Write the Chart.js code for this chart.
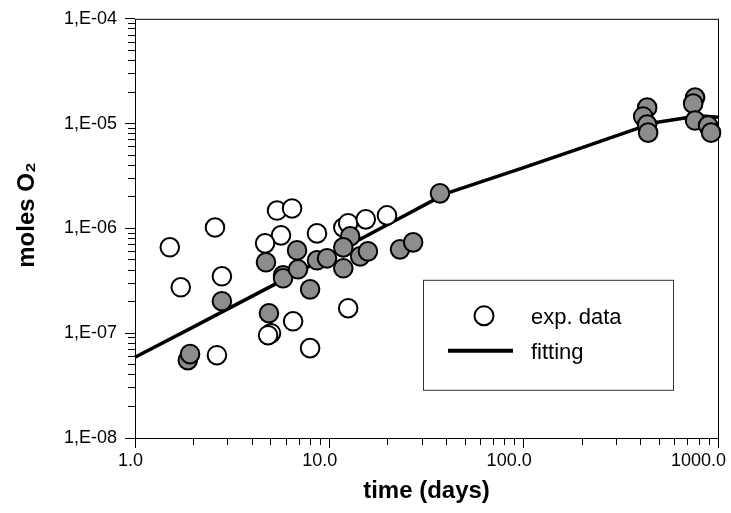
<!DOCTYPE html>
<html>
<head>
<meta charset="utf-8">
<script src="https://cdn.jsdelivr.net/npm/chart.js@4.4.1/dist/chart.umd.min.js"></script>
<style>
  html, body { margin: 0; padding: 0; background: #fff; }
  #wrap { width: 731px; height: 513px; }
</style>
</head>
<body>
<div id="wrap"><canvas id="oxygenChart"></canvas></div>
<script>
// exp. data, open symbols
const openDays = [1.51, 1.72, 2.58, 2.80, 2.64, 5.38, 6.43, 5.64, 4.67, 8.64, 6.51, 5.01, 4.84, 7.96, 12.5, 11.8, 12.5, 15.4, 19.8];
const openMoles = [6.6e-7, 2.74e-7, 1.02e-6, 3.49e-7, 6.17e-8, 1.48e-6, 1.55e-6, 8.58e-7, 7.2e-7, 8.96e-7, 1.30e-7, 1.0e-7, 9.57e-8, 7.2e-8, 1.73e-7, 1.02e-6, 1.12e-6, 1.22e-6, 1.33e-6];

// exp. data, grey symbols
const greyDays = [1.87, 1.92, 2.80, 4.72, 6.82, 5.78, 5.78, 6.90, 7.96, 8.64, 9.73, 4.89, 12.8, 11.8, 14.4, 15.8, 11.8, 23.1, 27.0, 37.1, 432, 412, 432, 437, 762, 745, 762, 889, 921];
const greyMoles = [5.53e-8, 6.31e-8, 2.02e-7, 4.75e-7, 6.17e-7, 3.57e-7, 3.34e-7, 4.07e-7, 2.62e-7, 4.96e-7, 5.18e-7, 1.55e-7, 8.39e-7, 6.59e-7, 5.41e-7, 6.04e-7, 4.16e-7, 6.31e-7, 7.36e-7, 2.16e-6, 1.42e-5, 1.17e-5, 9.78e-6, 8.2e-6, 1.77e-5, 1.55e-5, 1.07e-5, 9.57e-6, 8.2e-6];

// fitting curve
const fitDays = [1, 2, 5, 10, 20, 40, 100, 200, 470, 800, 1000];
const fitMoles = [5.9e-8, 1.15e-7, 2.8e-7, 5.5e-7, 1.09e-6, 2.16e-6, 3.8e-6, 5.9e-6, 1.02e-5, 1.19e-5, 1.15e-5];

const seriesLabels = ['exp. data', 'fitting'];

// axes
const xMajor = [1, 10, 100, 1000];
const xTickLabels = ['1.0', '10.0', '100.0', '1000.0'];
const yMajor = [1e-8, 1e-7, 1e-6, 1e-5, 1e-4];
const yTickLabels = ['1,E-08', '1,E-07', '1,E-06', '1,E-05', '1,E-04'];
const minorSteps = [2, 3, 4, 5, 6, 7, 8, 9];

function toPoints(xs, ys) {
    return xs.map((x, i) => ({ x: x, y: ys[i] }));
}

function logTicks(majors) {
    const out = [];
    majors.forEach((m, i) => {
        out.push({ value: m, major: true });
        if (i < majors.length - 1) {
            minorSteps.forEach(s => out.push({ value: m * s, major: false }));
        }
    });
    return out;
}

function labelFor(majors, labels) {
    return function (value) {
        const i = majors.findIndex(m => Math.abs(value / m - 1) < 1e-6);
        return i >= 0 ? labels[i] : '';
    };
}

const isMajor = c => c.tick && c.tick.major;

const frame = {
    id: 'frame',
    beforeDatasetsDraw(chart) {
        const { ctx, chartArea: a } = chart;
        ctx.save();
        ctx.strokeStyle = '#000';
        ctx.lineWidth = 1;
        ctx.strokeRect(a.left + 0.5, a.top + 0.5, a.right - a.left, a.bottom - a.top);
        ctx.restore();
    }
};

const legendBox = {
    id: 'legendBox',
    afterDatasetsDraw(chart) {
        const { ctx, chartArea: a } = chart;
        const x = a.left + 288, y = a.top + 261, w = 250, h = 110;
        ctx.save();
        ctx.fillStyle = '#fff';
        ctx.fillRect(x, y, w, h);
        ctx.strokeStyle = '#333';
        ctx.lineWidth = 1;
        ctx.strokeRect(x + 0.5, y + 0.5, w, h);

        ctx.beginPath();
        ctx.arc(x + 61, y + 36, 9.5, 0, Math.PI * 2);
        ctx.fillStyle = '#fff';
        ctx.fill();
        ctx.lineWidth = 2;
        ctx.strokeStyle = '#000';
        ctx.stroke();

        ctx.beginPath();
        ctx.moveTo(x + 25, y + 71);
        ctx.lineTo(x + 90, y + 71);
        ctx.lineWidth = 4;
        ctx.stroke();

        ctx.fillStyle = '#000';
        ctx.font = '22px "Liberation Sans", Arial, sans-serif';
        ctx.textBaseline = 'alphabetic';
        ctx.fillText(seriesLabels[0], x + 108, y + 44);
        ctx.fillText(seriesLabels[1], x + 108, y + 79);
        ctx.restore();
    }
};

Chart.defaults.font.family = '"Liberation Sans", Arial, sans-serif';
Chart.defaults.color = '#000';

new Chart(document.getElementById('oxygenChart'), {
    type: 'scatter',
    data: {
        datasets: [
            {
                label: seriesLabels[0],
                data: toPoints(greyDays, greyMoles),
                backgroundColor: '#8c8c8c',
                borderColor: '#000',
                borderWidth: 2,
                pointRadius: 9.3,
                pointHoverRadius: 9.3,
                order: 1,
                clip: false
            },
            {
                label: seriesLabels[0],
                data: toPoints(openDays, openMoles),
                backgroundColor: '#fff',
                borderColor: '#000',
                borderWidth: 2,
                pointRadius: 9.3,
                pointHoverRadius: 9.3,
                order: 2,
                clip: false
            },
            {
                label: seriesLabels[1],
                data: toPoints(fitDays, fitMoles),
                showLine: true,
                borderColor: '#000',
                borderWidth: 3.5,
                borderJoinStyle: 'round',
                pointRadius: 0,
                pointHoverRadius: 0,
                order: 3,
                clip: false
            }
        ]
    },
    options: {
        responsive: true,
        maintainAspectRatio: false,
        animation: false,
        events: [],
        layout: {
            padding: { left: 0, right: 13, top: 18, bottom: 0 },
            autoPadding: false
        },
        plugins: {
            legend: { display: false },
            tooltip: { enabled: false }
        },
        scales: {
            x: {
                type: 'logarithmic',
                min: 1,
                max: 1000,
                afterBuildTicks: s => { s.ticks = logTicks(xMajor); },
                afterFit: s => { s.height = 75; },
                border: { display: false },
                grid: {
                    drawOnChartArea: false,
                    tickLength: 10,
                    tickColor: '#000',
                    tickBorderDash: c => isMajor(c) ? [] : [7, 100]
                },
                ticks: {
                    autoSkip: false,
                    maxRotation: 0,
                    minRotation: 0,
                    align: 'end',
                    labelOffset: 8,
                    padding: 2,
                    font: { size: 18 },
                    callback: labelFor(xMajor, xTickLabels)
                },
                title: {
                    display: true,
                    text: 'time (days)',
                    font: { size: 24, weight: 'bold' },
                    padding: { top: 0, bottom: 7 }
                }
            },
            y: {
                type: 'logarithmic',
                min: 1e-8,
                max: 1e-4,
                afterBuildTicks: s => { s.ticks = logTicks(yMajor); },
                afterFit: s => { s.width = 135; },
                border: { display: false },
                grid: {
                    drawOnChartArea: false,
                    tickLength: 10,
                    tickColor: '#000',
                    tickBorderDash: c => isMajor(c) ? [] : [7, 100],
                    tickBorderDashOffset: c => isMajor(c) ? 0 : -3
                },
                ticks: {
                    autoSkip: false,
                    padding: 8,
                    font: { size: 18 },
                    callback: labelFor(yMajor, yTickLabels)
                },
                title: {
                    display: true,
                    text: '    moles O₂',
                    font: { size: 24, weight: 'bold' },
                    padding: { top: 13, bottom: 0 }
                }
            }
        }
    },
    plugins: [frame, legendBox]
});
</script>
</body>
</html>
